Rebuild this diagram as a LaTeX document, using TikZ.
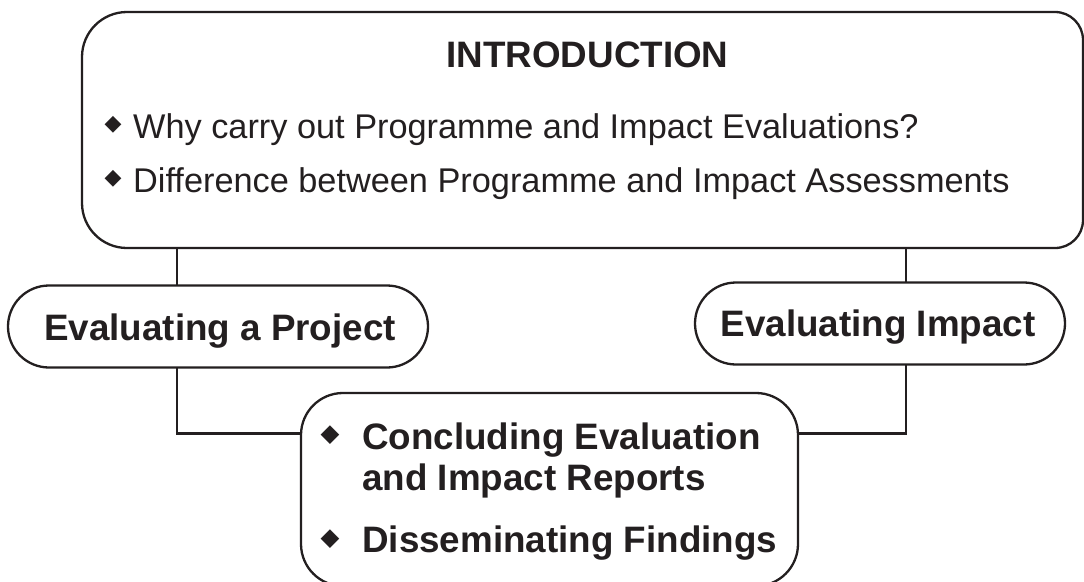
\documentclass[tikz,border=0pt]{standalone}
\usepackage{fontspec}
\setmainfont{Liberation Sans}
\newfontfamily\dejavu{DejaVu Sans}
\definecolor{ink}{RGB}{35,31,32}
\begin{document}
\begin{tikzpicture}[x=1pt,y=-1pt,
  line/.style={draw=ink,line width=2.3pt},
  shapebox/.style={inner sep=0pt,outer sep=0pt,rectangle},
  pill/.style={shapebox,line,rounded corners=41pt,minimum height=82pt},
  boldtxt/.style={inner sep=0pt,text=ink,font=\fontsize{36.8}{42}\selectfont\bfseries},
  regtxt/.style={inner sep=0pt,text=ink,font=\fontsize{34.3}{40}\selectfont},
  bulsmall/.style={inner sep=0pt,text=ink,font=\dejavu\fontsize{22}{22}\selectfont},
  bulbig/.style={inner sep=0pt,text=ink,font=\dejavu\fontsize{24.5}{24.5}\selectfont}]
\useasboundingbox (0,0) rectangle (1084,581);
\fill[white] (0,0) rectangle (1084,581);

% top box
\node[shapebox,minimum width=1001pt,minimum height=236pt] (intro) at (582.5,130) {};
\draw[line,rounded corners=45pt] (intro.south) -- (intro.south west) -- (intro.north west) -- (intro.north)
  [rounded corners=28pt] -- (intro.north east) -- (intro.south east) -- cycle;
\node[boldtxt,anchor=base] (t0) at (587.5,67) {INTRODUCTION};
\node[bulsmall] (b1) at (113,125) {◆};
\node[regtxt,anchor=base west] (t1) at (133,138) {Why carry out Programme and Impact Evaluations?};
\node[bulsmall] (b2) at (113,179) {◆};
\node[regtxt,anchor=base west] (t2) at (133,192.5) {Difference between Programme and Impact Assessments};

% middle pills
\node[pill,minimum width=420pt] (proj) at (218,326.5) {};
\node[boldtxt,anchor=base] (tp) at (220,340) {Evaluating a Project};
\node[pill,minimum width=370pt] (impact) at (880,323.5) {};
\node[boldtxt,anchor=base] (ti) at (878,336) {Evaluating Impact};

% bottom box
\node[shapebox,line,rounded corners=42pt,minimum width=497pt,minimum height=193pt] (concl) at (549.5,489.5) {};
\node[bulbig] (b3) at (330,435) {◆};
\node[boldtxt,anchor=base west] (c1) at (362,449) {Concluding Evaluation};
\node[boldtxt,anchor=base west] (c2) at (362,490.5) {and Impact Reports};
\node[bulbig] (b4) at (330,539) {◆};
\node[boldtxt,anchor=base west] (c3) at (362,552) {Disseminating Findings};

% connectors
\coordinate (cl) at (177,0);
\coordinate (cr) at (906,0);
\coordinate (hy) at (0,433.5);
\draw[line] (intro.south -| cl) -- (proj.north -| cl);
\draw[line] (proj.south -| cl) |- (concl.west |- hy);
\draw[line] (intro.south -| cr) -- (impact.north -| cr);
\draw[line] (impact.south -| cr) |- (concl.east |- hy);
\end{tikzpicture}
\end{document}
